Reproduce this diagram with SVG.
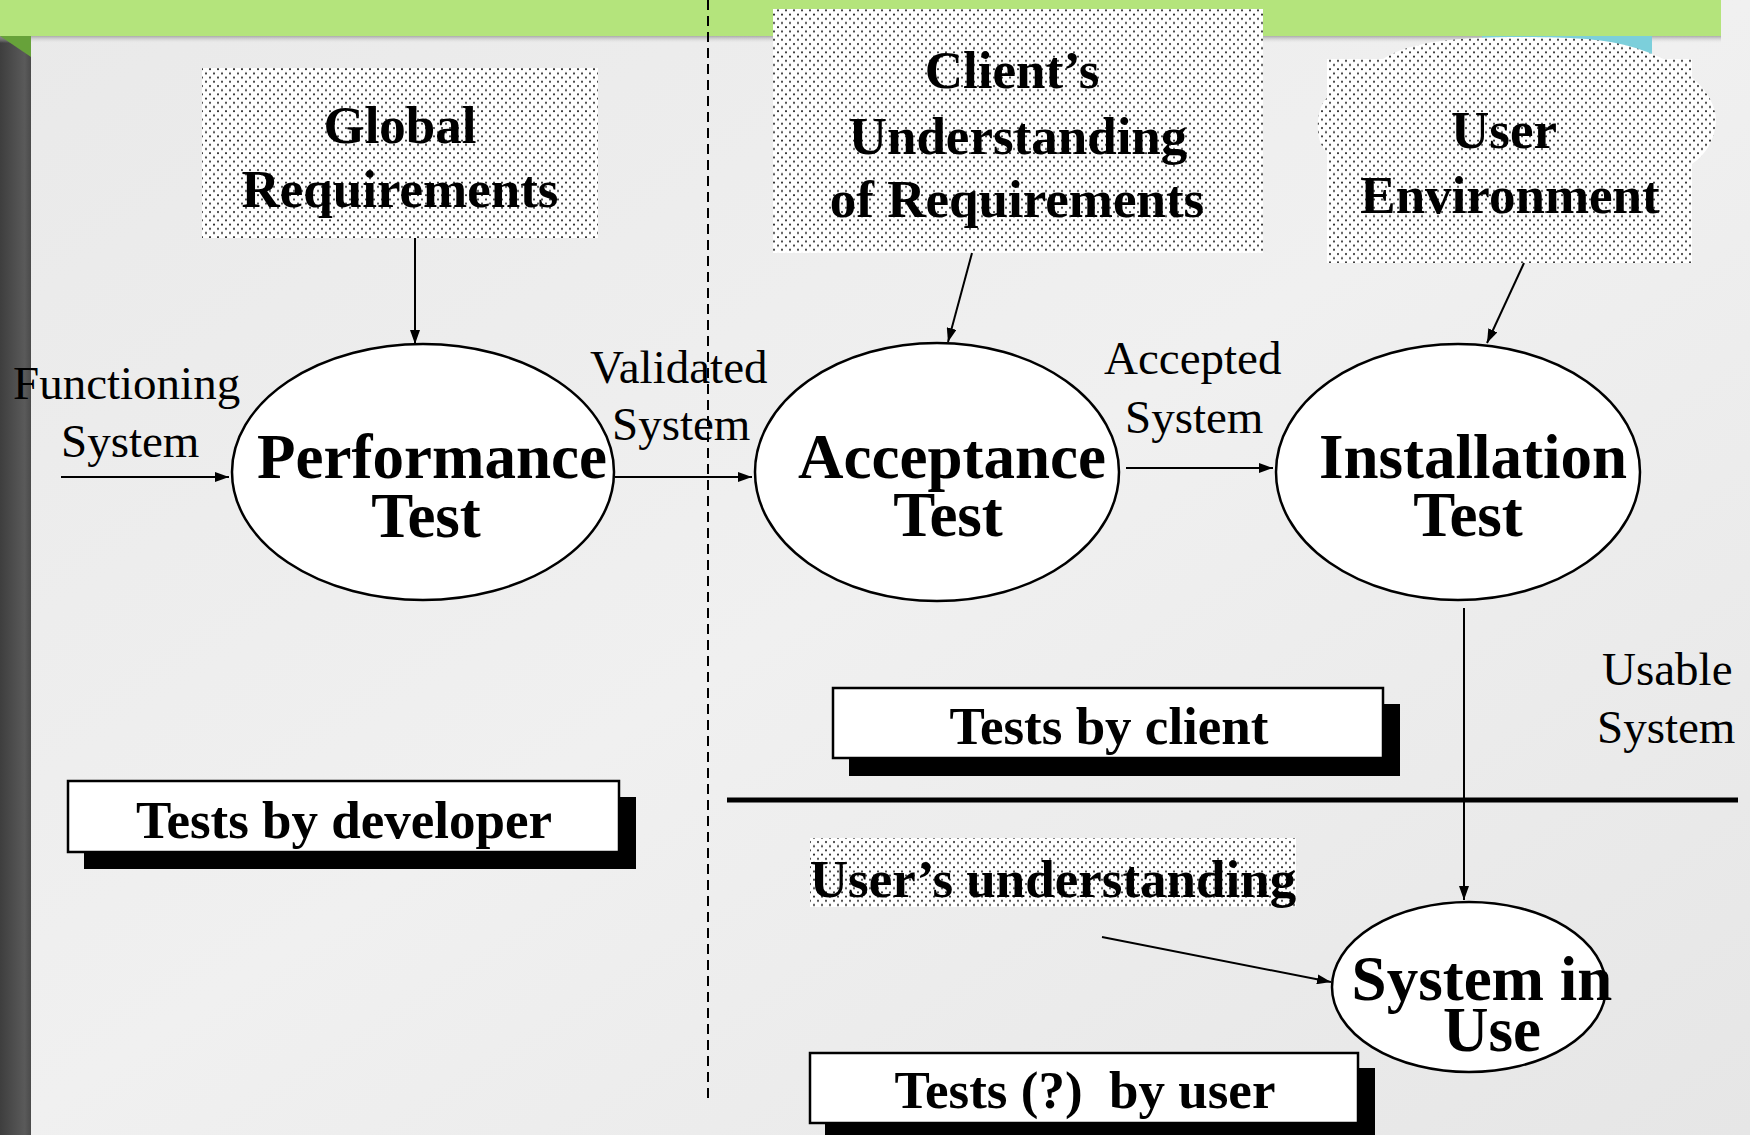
<svg xmlns="http://www.w3.org/2000/svg" width="1750" height="1135" viewBox="0 0 1750 1135">
<defs>
  <linearGradient id="bg" x1="0" y1="0" x2="1" y2="1">
    <stop offset="0" stop-color="#e9e9e9"/>
    <stop offset="0.5" stop-color="#f0f0f0"/>
    <stop offset="1" stop-color="#e6e6e6"/>
  </linearGradient>
  <linearGradient id="side" x1="0" y1="0" x2="1" y2="0">
    <stop offset="0" stop-color="#3e3e3e"/>
    <stop offset="0.8" stop-color="#5a5a5a"/>
    <stop offset="1" stop-color="#4a4a4a"/>
  </linearGradient>
  <linearGradient id="barshadow" x1="0" y1="0" x2="0" y2="1">
    <stop offset="0" stop-color="#9a9a9a" stop-opacity="0.8"/>
    <stop offset="1" stop-color="#e0e0e0" stop-opacity="0"/>
  </linearGradient>
  <pattern id="dots" width="8" height="8.4" patternUnits="userSpaceOnUse">
    <rect width="8" height="8.4" fill="#ffffff"/>
    <circle cx="2" cy="2" r="1" fill="#222222"/>
    <circle cx="6" cy="6.2" r="1" fill="#222222"/>
  </pattern>
  <marker id="arrow" viewBox="0 0 14 10" refX="14" refY="5" markerWidth="14" markerHeight="10" markerUnits="userSpaceOnUse" orient="auto">
    <path d="M0,0 L14,5 L0,10 Z" fill="#000"/>
  </marker>
  <style>
    .bold { font-family: "Liberation Serif", "Times New Roman", serif; font-weight: bold; fill: #000; text-anchor: middle; }
    .big { font-size: 63px; }
    .mid { font-size: 53px; }
    .lbl { font-family: "Liberation Serif", "Times New Roman", serif; font-size: 47px; fill: #000; }
    .oval { fill: #ffffff; stroke: #000; stroke-width: 2.5; }
    .dotbox { fill: url(#dots); }
    .conn { stroke: #000; stroke-width: 2; fill: none; marker-end: url(#arrow); }
    .card { fill: #ffffff; stroke: #000; stroke-width: 2.5; }
    .shadow { fill: #000; }
  </style>
</defs>

<!-- background -->
<rect x="0" y="0" width="1750" height="1135" fill="url(#bg)"/>
<rect x="0" y="36" width="31" height="1099" fill="url(#side)"/>
<rect x="0" y="36" width="1721" height="7" fill="url(#barshadow)"/>
<rect x="0" y="0" width="1721" height="36" fill="#b4e47c"/>
<polygon points="0,36 31,36 31,57" fill="#67a23a"/>
<rect x="1482" y="36" width="170" height="24" fill="#7ccfdb"/>

<!-- dashed divider -->
<line x1="708" y1="0" x2="708" y2="1099" stroke="#000" stroke-width="2" stroke-dasharray="10 6"/>
<!-- solid divider -->
<line x1="727" y1="800" x2="1738" y2="800" stroke="#000" stroke-width="5"/>

<g id="global-requirements">
  <rect class="dotbox" x="202" y="68" width="396" height="170"/>
  <text class="bold mid" x="400" y="143">Global</text>
  <text class="bold mid" x="400" y="207">Requirements</text>
</g>

<g id="clients-understanding">
  <rect class="dotbox" x="773" y="9" width="490" height="244"/>
  <text class="bold mid" x="1012" y="88">Client’s</text>
  <text class="bold mid" x="1018" y="154">Understanding</text>
  <text class="bold mid" x="1017" y="217">of Requirements</text>
</g>

<g id="user-environment">
  <path class="dotbox" d="M1383,59 C1410,41 1460,37 1520,37 C1570,37 1600,39 1625,45 C1690,62 1717,96 1716,122 C1714,142 1705,155 1692,164 L1692,200 L1327,200 L1327,153 C1319,145 1317,132 1318,121 C1319,110 1322,102 1327,98 Z"/>
  <rect class="dotbox" x="1327" y="59" width="365" height="204"/>
  <text class="bold mid" x="1504" y="148">User</text>
  <text class="bold mid" x="1510" y="213">Environment</text>
</g>

<g id="performance-test">
  <ellipse class="oval" cx="423" cy="472" rx="191" ry="128"/>
  <text class="bold big" x="432" y="478">Performance</text>
  <text class="bold big" x="426" y="537">Test</text>
</g>

<g id="acceptance-test">
  <ellipse class="oval" cx="937" cy="472" rx="182" ry="129"/>
  <text class="bold big" x="952" y="478">Acceptance</text>
  <text class="bold big" x="948" y="536">Test</text>
</g>

<g id="installation-test">
  <ellipse class="oval" cx="1458" cy="472" rx="182" ry="128"/>
  <text class="bold big" x="1473" y="478">Installation</text>
  <text class="bold big" x="1468" y="536">Test</text>
</g>

<g id="system-in-use">
  <ellipse class="oval" cx="1469" cy="987" rx="137" ry="85"/>
  <text class="bold big" x="1482" y="1000">System in</text>
  <text class="bold big" x="1492" y="1051">Use</text>
</g>

<g id="users-understanding">
  <rect class="dotbox" x="810" y="838" width="486" height="69"/>
  <text class="bold mid" x="1053" y="897">User’s understanding</text>
</g>

<g id="tests-by-developer">
  <rect class="shadow" x="84" y="797" width="552" height="72"/>
  <rect class="card" x="68" y="781" width="551" height="71"/>
  <text class="bold mid" x="344" y="838">Tests by developer</text>
</g>

<g id="tests-by-client">
  <rect class="shadow" x="849" y="704" width="551" height="72"/>
  <rect class="card" x="833" y="688" width="550" height="70"/>
  <text class="bold mid" x="1109" y="744">Tests by client</text>
</g>

<g id="tests-by-user">
  <rect class="shadow" x="825" y="1068" width="550" height="70"/>
  <rect class="card" x="810" y="1053" width="548" height="70"/>
  <text class="bold mid" x="1085" y="1108" style="white-space:pre">Tests (?)  by user</text>
</g>

<g id="connectors">
  <line class="conn" x1="61" y1="477" x2="229" y2="477"/>
  <line class="conn" x1="415" y1="238" x2="415" y2="344"/>
  <line class="conn" x1="615" y1="477" x2="752" y2="477"/>
  <line class="conn" x1="972" y1="253" x2="948" y2="342"/>
  <line class="conn" x1="1126" y1="468" x2="1273" y2="468"/>
  <line class="conn" x1="1524" y1="263" x2="1487" y2="343"/>
  <line class="conn" x1="1464" y1="608" x2="1464" y2="900"/>
  <line class="conn" x1="1102" y1="937" x2="1331" y2="982"/>
</g>

<g id="labels">
  <text class="lbl" x="13" y="399">Functioning</text>
  <text class="lbl" x="61" y="457">System</text>
  <text class="lbl" x="590" y="383">Validated</text>
  <text class="lbl" x="612" y="440">System</text>
  <text class="lbl" x="1104" y="374">Accepted</text>
  <text class="lbl" x="1125" y="433">System</text>
  <text class="lbl" x="1602" y="685">Usable</text>
  <text class="lbl" x="1597" y="743">System</text>
</g>
</svg>
